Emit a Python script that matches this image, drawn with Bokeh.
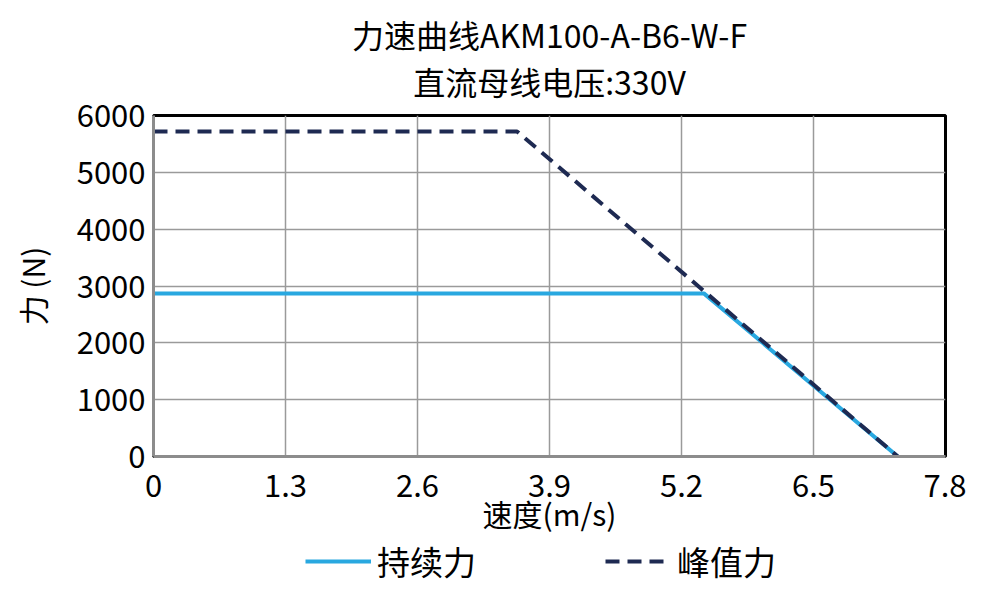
from bokeh.plotting import figure
from bokeh.layouts import column
from bokeh.models import Range1d, FixedTicker, Title, Legend, LegendItem
from bokeh.embed import file_html
from bokeh.resources import INLINE

FONT = "Noto Sans CJK SC"
NAN = float("nan")

# data
speed_cont = [0, 5.42, 7.33]
force_cont = [2870, 2870, 0]
speed_peak = [0, 3.58, 7.33]
force_peak = [5720, 5720, 0]

x_ticks = [0, 1.3, 2.6, 3.9, 5.2, 6.5, 7.8]
x_labels = ["0", "1.3", "2.6", "3.9", "5.2", "6.5", "7.8"]
y_ticks = [0, 1000, 2000, 3000, 4000, 5000, 6000]

CONT = dict(line_color="#29a8e0", line_width=4)
PEAK = dict(line_color="#1e2a52", line_width=4, line_dash="14 8")

p = figure(frame_width=792, frame_height=341, output_backend="svg",
           toolbar_location=None,
           x_range=Range1d(0, 7.8), y_range=Range1d(0, 6000),
           min_border_left=153, min_border_right=21,
           min_border_top=115, min_border_bottom=81)
p.title = None
p.add_layout(Title(text="直流母线电压:330V", align="center", text_font=FONT,
                   text_font_size="32px", text_font_style="normal",
                   text_color="black", standoff=24), "above")
p.add_layout(Title(text="力速曲线AKM100-A-B6-W-F", align="center", text_font=FONT,
                   text_font_size="32px", text_font_style="normal",
                   text_color="black", standoff=-26), "above")

p.outline_line_color = "black"
p.outline_line_width = 3

p.xaxis.ticker = FixedTicker(ticks=x_ticks)
p.xaxis.major_label_overrides = {t: l for t, l in zip(x_ticks, x_labels)}
p.yaxis.ticker = FixedTicker(ticks=y_ticks)
p.xaxis.axis_label = "速度(m/s)"
p.yaxis.axis_label = "力 (N)"
for ax in (p.xaxis, p.yaxis):
    ax.axis_line_color = "#8c8c8c"
    ax.axis_line_width = 3
    ax.major_tick_line_color = None
    ax.minor_tick_line_color = None
    ax.major_label_text_font = FONT
    ax.major_label_text_font_size = "31px"
    ax.major_label_text_color = "black"
    ax.axis_label_text_font = FONT
    ax.axis_label_text_font_size = "30px"
    ax.axis_label_text_font_style = "normal"
    ax.axis_label_text_color = "black"
p.xaxis.major_label_standoff = 11
p.xaxis.axis_label_standoff = -9
p.yaxis.major_label_standoff = 2
p.yaxis.axis_label_standoff = 20

p.grid.grid_line_color = "#9a9a9a"
p.grid.grid_line_width = 1.5

p.line(speed_cont, force_cont, **CONT)
p.line(speed_peak, force_peak, **PEAK)

# legend strip under the chart
leg = figure(frame_width=792, frame_height=48, output_backend="svg",
             toolbar_location=None, x_range=Range1d(0, 1), y_range=Range1d(0, 1),
             x_axis_type=None, y_axis_type=None,
             min_border_left=153, min_border_right=21,
             min_border_top=0, min_border_bottom=0)
leg.outline_line_color = None
leg.grid.visible = False
r_cont = leg.line([NAN], [NAN], **CONT)
r_peak = leg.line([NAN], [NAN], **PEAK)
legend = Legend(items=[LegendItem(label="持续力", renderers=[r_cont]),
                       LegendItem(label="峰值力", renderers=[r_peak])],
                orientation="horizontal", location=(152, 0),
                label_text_font=FONT, label_text_font_size="33px",
                label_text_color="black", glyph_width=66, glyph_height=20,
                label_standoff=6, spacing=129, border_line_color=None,
                background_fill_alpha=0, padding=0, margin=0)
leg.add_layout(legend, "center")

open("out.html", "w").write(file_html(column(p, leg), INLINE))
